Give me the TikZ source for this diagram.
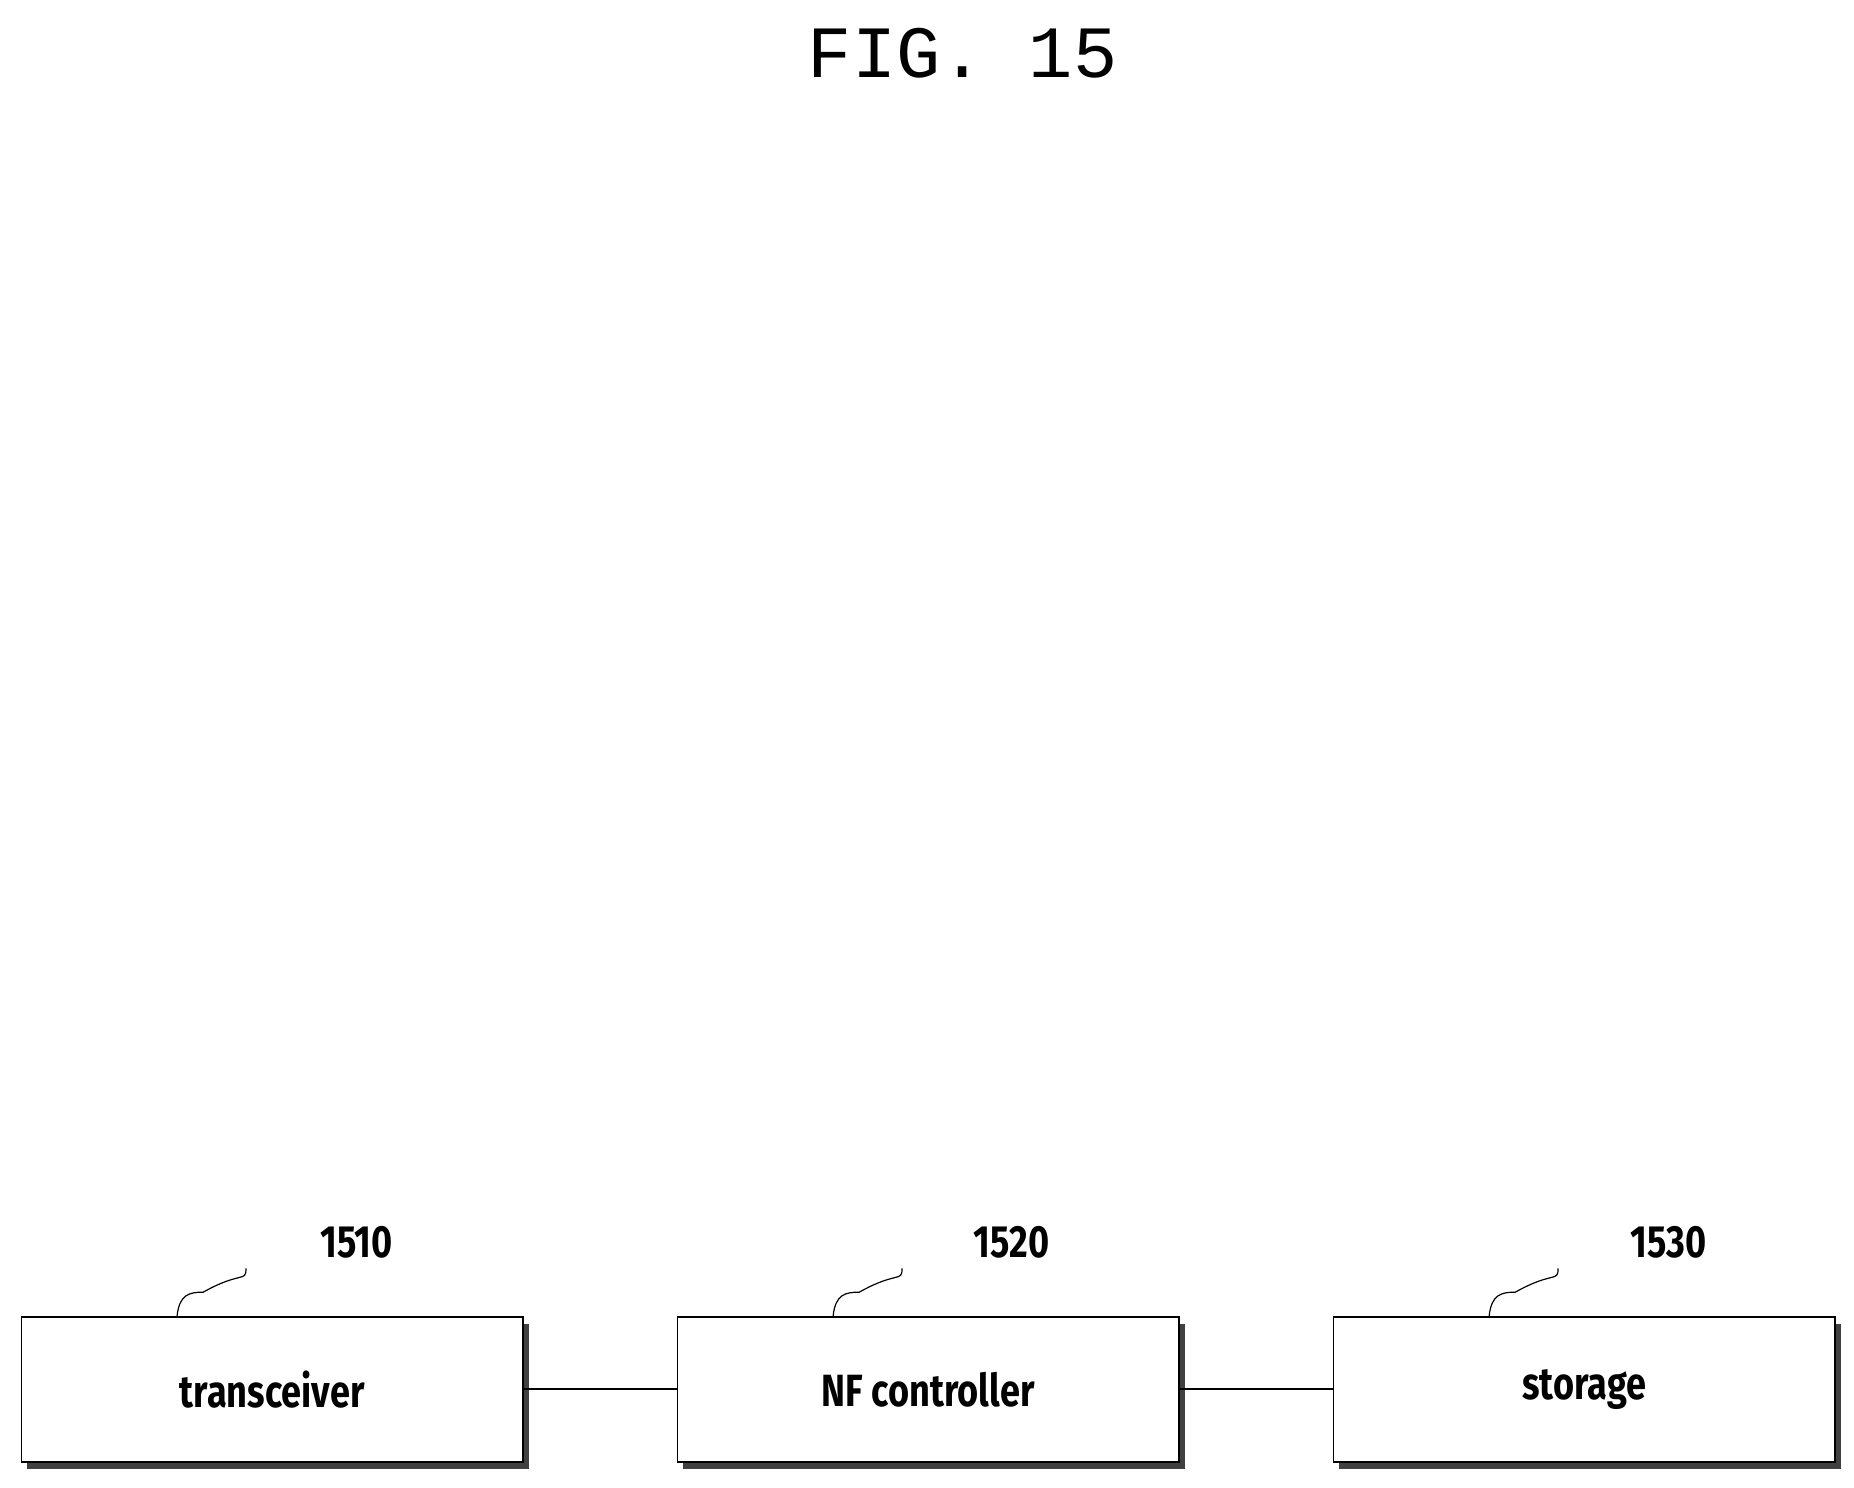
\documentclass[tikz,border=0pt]{standalone}
\usetikzlibrary{shadows}
\usepackage{fontspec}
\setmainfont{Fira Sans}
\newfontfamily\monof{Liberation Mono}
\begin{document}
\begin{tikzpicture}[x=1pt,y=-1pt,
  blk/.style={draw,line width=1.5pt,fill=white,minimum width=422pt,minimum height=122pt,inner sep=0pt,
     font=\fontsize{38}{40}\selectfont\bfseries, drop shadow={shadow xshift=5pt,shadow yshift=-6pt,fill=black!75,opacity=1}},
  lbl/.style={font=\fontsize{38}{40}\selectfont\bfseries},
  lead/.style={line width=1pt}]
\useasboundingbox (0,0) rectangle (1560,1252);
\node[font=\monof\fontsize{62}{62}\selectfont] (title) at (810,45) {FIG. 15};
\node[blk] (t) at (229,1169) {\scalebox{0.8}[1]{transceiver}};
\node[blk] (n) at (781,1169) {\scalebox{0.8}[1]{NF controller}};
\node[blk] (s) at (1333,1169) {\scalebox{0.8}[1]{storage}};
\draw[line width=1.5pt] (t.east) -- (n.west);
\draw[line width=1.5pt] (n.east) -- (s.west);
\node[lbl] (l1) at (300,1045) {\scalebox{0.8}[1]{1510}};
\node[lbl] (l2) at (851,1045) {\scalebox{0.8}[1]{1520}};
\node[lbl] (l3) at (1404,1045) {\scalebox{0.8}[1]{1530}};
\draw[lead] ([xshift=-80pt]t.north) .. controls +(2,-18) and +(-12,0) .. +(22,-20) .. controls +(32,-18) and +(0,12) .. +(58,-40);
\draw[lead] ([xshift=-80pt]n.north) .. controls +(2,-18) and +(-12,0) .. +(22,-20) .. controls +(32,-18) and +(0,12) .. +(58,-40);
\draw[lead] ([xshift=-80pt]s.north) .. controls +(2,-18) and +(-12,0) .. +(22,-20) .. controls +(32,-18) and +(0,12) .. +(58,-40);
\end{tikzpicture}
\end{document}
